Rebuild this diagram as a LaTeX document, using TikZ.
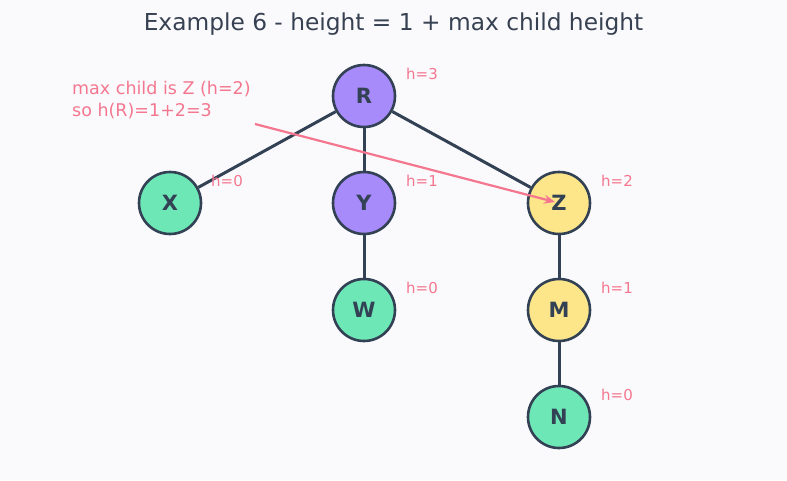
\documentclass[tikz,border=0pt]{standalone}
\usepackage{fontspec}
\setmainfont{DejaVu Sans}
\usetikzlibrary{arrows.meta}
\definecolor{bg}{HTML}{FAFAFD}
\definecolor{edgec}{HTML}{334155}
\definecolor{purp}{HTML}{A78BFA}
\definecolor{grn}{HTML}{6EE7B7}
\definecolor{yel}{HTML}{FDE68A}
\definecolor{pink}{HTML}{F4778F}
\definecolor{titlec}{HTML}{374151}
\tikzset{
  tnode/.style={circle, draw=edgec, line width=2.6pt, minimum size=62pt, inner sep=0pt, font=\fontsize{21}{24}\selectfont\bfseries, text=edgec},
  hlab/.style={anchor=west, text=pink, font=\fontsize{15}{17}\selectfont, inner sep=0pt},
  tedge/.style={draw=edgec, line width=3pt},
}
\begin{document}
\begin{tikzpicture}[x=1pt,y=-1pt]
\fill[bg] (0,0) rectangle (787,480);
\useasboundingbox (0,0) rectangle (787,480);
\node[text=titlec, font=\fontsize{23.3}{26}\selectfont] (title) at (393.5,24) {Example 6 - height = 1 + max child height};
\node[tnode, fill=purp] (R) at (364,96) {R};
\node[tnode, fill=grn] (X) at (170,203) {X};
\node[tnode, fill=purp] (Y) at (364,203) {Y};
\node[tnode, fill=yel] (Z) at (559,203) {Z};
\node[tnode, fill=grn] (W) at (364,310) {W};
\node[tnode, fill=yel] (M) at (559,310) {M};
\node[tnode, fill=grn] (N) at (559,417) {N};
\draw[tedge] (R) -- (X);
\draw[tedge] (R) -- (Y);
\draw[tedge] (R) -- (Z);
\draw[tedge] (Y) -- (W);
\draw[tedge] (Z) -- (M);
\draw[tedge] (M) -- (N);
\node[hlab] (hR) at (406,74) {h=3};
\node[hlab] (hX) at (211,181) {h=0};
\node[hlab] (hY) at (406,181) {h=1};
\node[hlab] (hZ) at (601,181) {h=2};
\node[hlab] (hW) at (406,288) {h=0};
\node[hlab] (hM) at (601,288) {h=1};
\node[hlab] (hN) at (601,395) {h=0};
\node[anchor=north west, text=pink, font=\fontsize{17.5}{22}\selectfont, align=left, inner sep=0pt] (note) at (72,81) {max child is Z (h=2)\\so h(R)=1+2=3};
\coordinate (as) at (255,124);
\coordinate (ae) at (555,202);
\draw[pink, line width=2.2pt, -{Stealth[length=11pt,width=9pt]}] (as) -- (ae);
\end{tikzpicture}
\end{document}
